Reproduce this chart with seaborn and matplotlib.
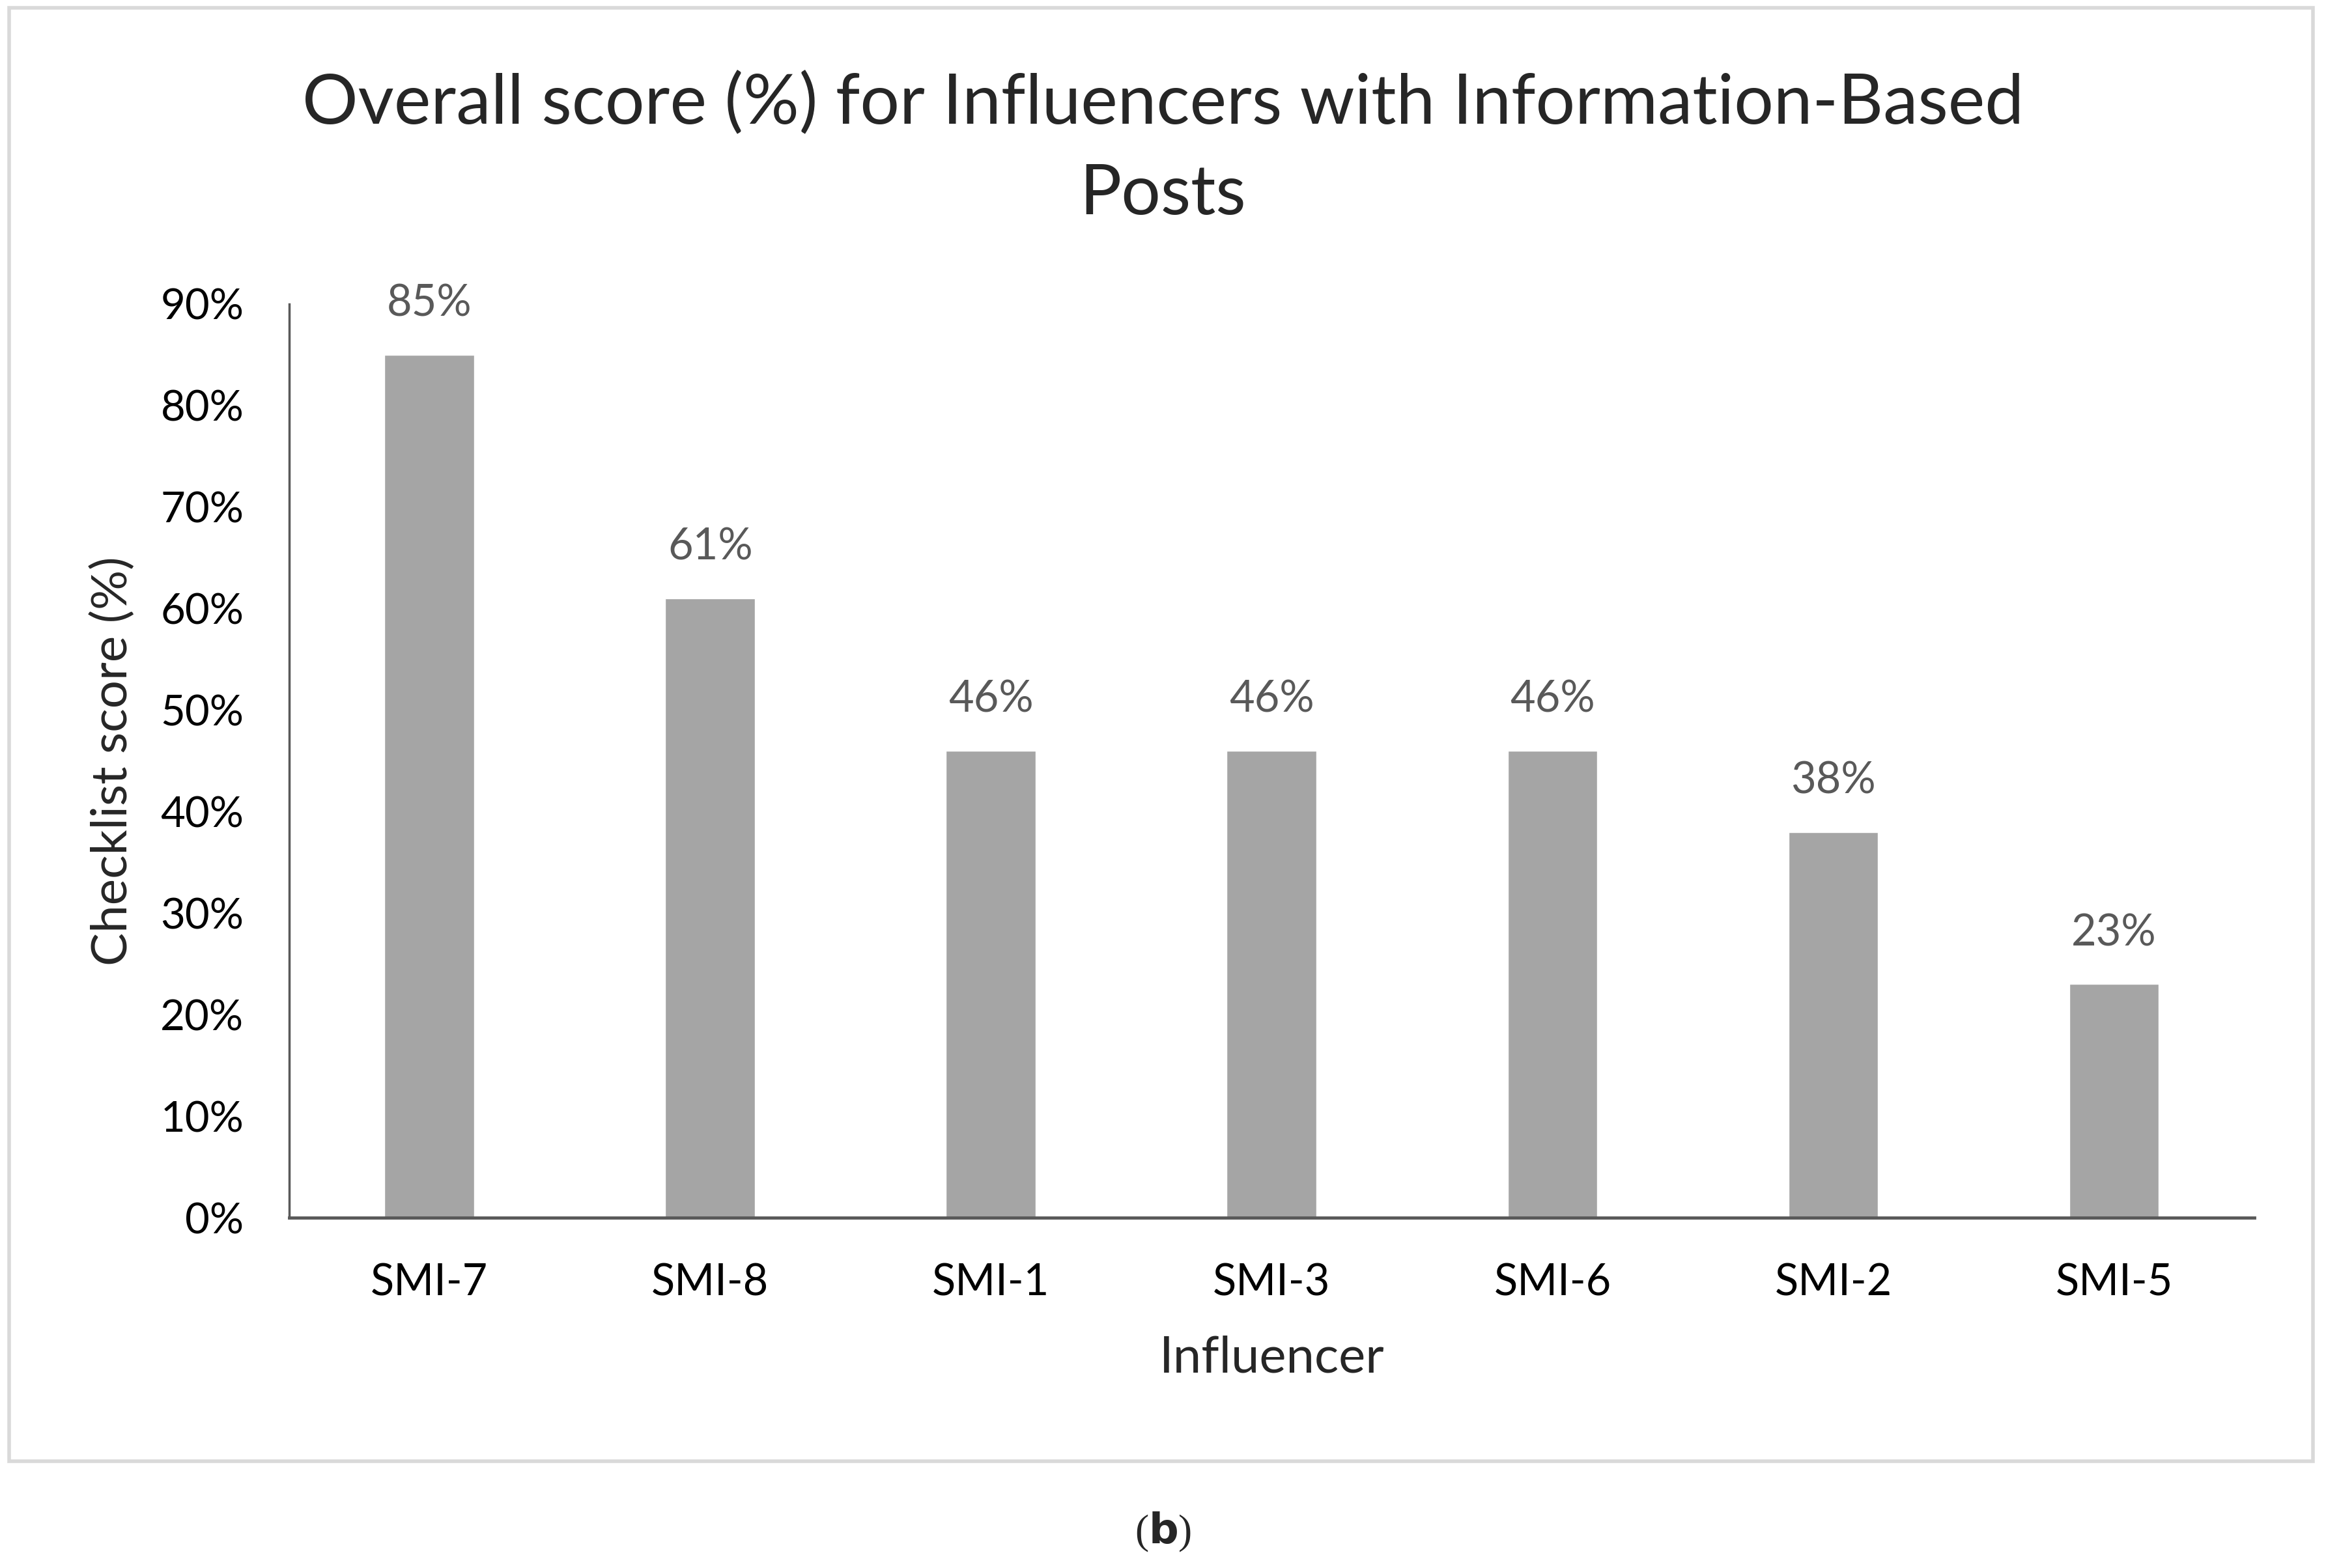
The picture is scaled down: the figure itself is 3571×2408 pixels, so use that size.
import numpy as np
import pandas as pd
import matplotlib.pyplot as plt
import seaborn as sns
from matplotlib.patches import Rectangle

influencers = ['SMI-7', 'SMI-8', 'SMI-1', 'SMI-3', 'SMI-6', 'SMI-2', 'SMI-5']
scores = [85, 61, 46, 46, 46, 38, 23]
y_ticks = [0, 10, 20, 30, 40, 50, 60, 70, 80, 90]

data = pd.DataFrame({'Influencer': influencers, 'Score': scores})

sns.set_style('white')
plt.rcParams['font.family'] = ['Lato', 'DejaVu Sans']

fig = plt.figure(figsize=(35.71, 24.08), dpi=100)
ax = fig.add_axes([0.1243, 0.2234, 0.8449, 0.5827])

sns.barplot(data=data, x='Influencer', y='Score', color='#a5a5a5',
            saturation=1, width=0.32, ax=ax)

ax.set_xlim(-0.5, len(influencers) - 0.5)
ax.set_ylim(0, 90)
ax.set_yticks(y_ticks)
ax.set_yticklabels([f'{t}%' for t in y_ticks])
ax.tick_params(axis='y', length=0, labelsize=47, colors='black', pad=50)
ax.tick_params(axis='x', length=0, labelsize=48, colors='black', pad=50)

for side in ['top', 'right']:
    ax.spines[side].set_visible(False)
ax.spines['left'].set_color('#595959')
ax.spines['left'].set_linewidth(2.5)
ax.spines['bottom'].set_color('#595959')
ax.spines['bottom'].set_linewidth(3.5)

ax.bar_label(ax.containers[0], labels=[f'{s}%' for s in scores],
             padding=34, fontsize=48, color='#595959')

ax.set_xlabel('Influencer', fontsize=56, labelpad=35)
ax.set_ylabel('Checklist score (%)', fontsize=55, labelpad=28)

fig.text(0.5, 0.905, 'Overall score (%) for Influencers with Information-Based\nPosts',
         ha='center', va='center', fontsize=77, linespacing=1.55)

fig.patches.append(Rectangle((0.004, 0.068), 0.9905, 0.927, transform=fig.transFigure,
                             fill=False, edgecolor='#d9d9d9', linewidth=4))

fig.text(0.5, 0.023, r'($\mathbf{b}$)', ha='center', va='center', fontsize=46,
         family='Liberation Serif')

fig.savefig('out.png', dpi=100, facecolor='white')
